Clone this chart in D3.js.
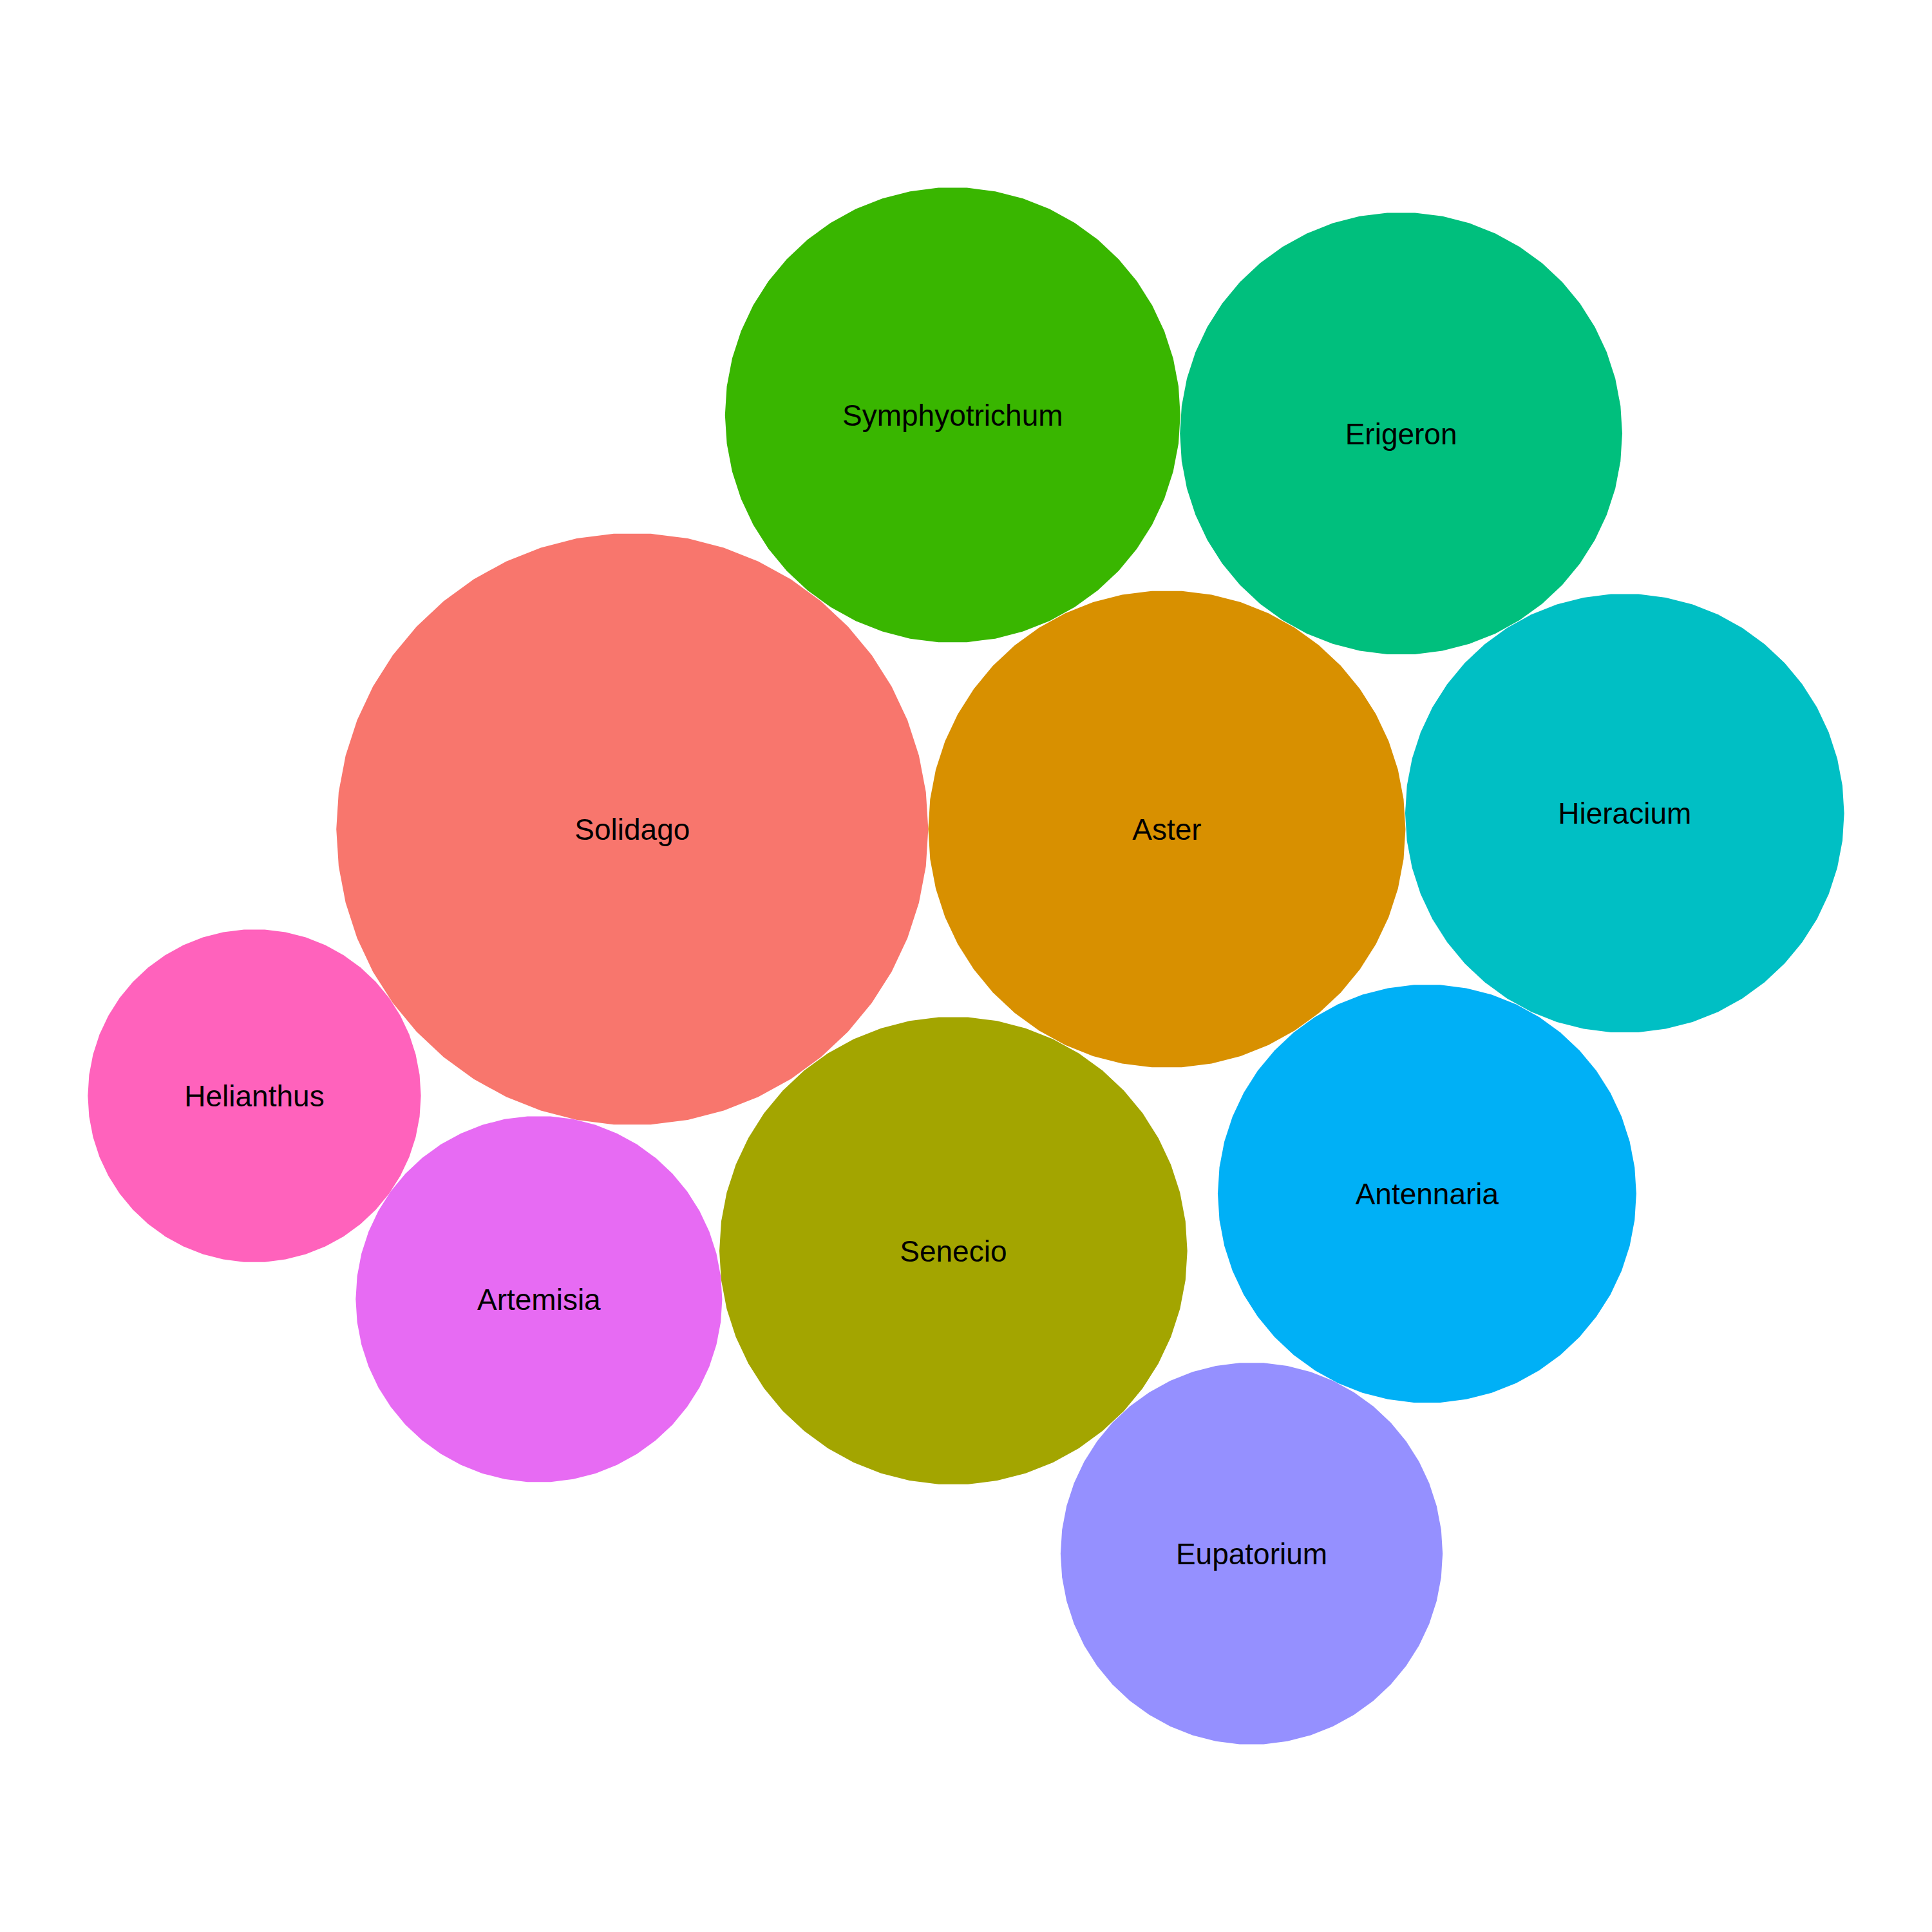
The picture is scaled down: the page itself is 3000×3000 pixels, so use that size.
<!DOCTYPE html>
<html>
<head>
<meta charset="utf-8">
<script src="https://cdn.jsdelivr.net/npm/d3@7"></script>
<style>
  body { margin: 0; background: #fff; }
</style>
</head>
<body>
<svg id="chart"></svg>
<script>
// genera and their counts (area of each bubble), largest first
const genera = ["Solidago", "Aster", "Senecio", "Symphyotrichum", "Erigeron",
                "Hieracium", "Antennaria", "Eupatorium", "Artemisia", "Helianthus"];
const counts = [120, 78, 75, 71, 67, 66, 60, 50, 46, 38];
// ggplot default hue palette for 10 levels
const palette = ["#F8766D", "#D89000", "#A3A500", "#39B600", "#00BF7D",
                 "#00BFC4", "#00B0F6", "#9590FF", "#E76BF3", "#FF62BC"];

const W = 3000, H = 3000;
const npoints = 50;

// progressive front-chain packing (Wang et al.), new circle goes next to
// the chain circle nearest the origin
function place(a, b, c) {
  let db = a.r + c.r, dx = b.x - a.x, dy = b.y - a.y;
  let da = b.r + c.r, dc = dx * dx + dy * dy;
  da *= da; db *= db;
  const x = .5 + (db - da) / (2 * dc);
  const y = Math.sqrt(Math.max(0, 2 * da * (db + dc) - (db -= dc) * db - da * da)) / (2 * dc);
  c.x = a.x + x * dx + y * dy;
  c.y = a.y + x * dy - y * dx;
}
function intersects(a, b) {
  const dx = b.x - a.x, dy = b.y - a.y, dr = a.r + b.r;
  return .999 * dr * dr > dx * dx + dy * dy;
}
function insert(a, b) {
  const c = a.next;
  a.next = b; b.prev = a; b.next = c; c.prev = b;
}
function splice(a, b) { a.next = b; b.prev = a; }

function progressiveLayout(nodes) {
  nodes.forEach(d => { d.next = d.prev = d; });
  const n = nodes.length;
  let a = nodes[0], b = nodes[1], c = nodes[2];
  a.x = -a.r; a.y = 0;
  b.x = b.r; b.y = 0;
  place(a, b, c);
  insert(a, c); a.prev = c; insert(c, b);
  for (let i = 3; i < n; i++) {
    c = nodes[i];
    // chain circle closest to origin
    let best = a, bd = Infinity, p = a;
    do {
      const dd = p.x * p.x + p.y * p.y;
      if (dd < bd) { bd = dd; best = p; }
      p = p.next;
    } while (p !== a);
    a = best; b = a.next;
    for (;;) {
      place(a, b, c);
      let isect = false, s1 = 1, s2 = 1, j, k;
      for (j = b.next; j !== b; j = j.next, s1++) {
        if (intersects(j, c)) { isect = true; break; }
      }
      if (!isect) break;
      for (k = a.prev; k !== j.prev; k = k.prev, s2++) {
        if (intersects(k, c)) break;
      }
      if (s1 < s2 || (s1 === s2 && b.r < a.r)) splice(a, b = j);
      else splice(a = k, b);
    }
    insert(a, c);
  }
  return nodes;
}

const svg = d3.select('#chart')
  .attr('width', W)
  .attr('height', H);

const nodes = progressiveLayout(counts.map((v, i) => ({ name: genera[i], value: v, r: Math.sqrt(v) })));

// polygons approximating circles, like packcircles vertices
const angles = d3.range(npoints).map(j => 2 * Math.PI * j / npoints);
nodes.forEach(d => { d.poly = angles.map(t => [d.x + d.r * Math.cos(t), d.y + d.r * Math.sin(t)]); });
const allPts = nodes.flatMap(d => d.poly);

// extent with 5% expansion, equal aspect
const xe = d3.extent(allPts, p => p[0]), ye = d3.extent(allPts, p => p[1]);
const span = Math.max(xe[1] - xe[0], ye[1] - ye[0]) * 1.1;
const mx = (xe[0] + xe[1]) / 2, my = (ye[0] + ye[1]) / 2;

const x = d3.scaleLinear().domain([mx - span / 2, mx + span / 2]).range([0, W]);
const y = d3.scaleLinear().domain([my - span / 2, my + span / 2]).range([H, 0]);

const color = d3.scaleOrdinal().domain(genera).range(palette);
const line = d3.line().x(p => x(p[0])).y(p => y(p[1])).curve(d3.curveLinearClosed);

svg.append('g')
  .selectAll('path')
  .data(nodes)
  .join('path')
  .attr('d', d => line(d.poly))
  .attr('fill', d => color(d.name));

const fs = 46;
svg.append('g')
  .selectAll('text')
  .data(nodes)
  .join('text')
  .attr('x', d => x(d.x))
  .attr('y', d => y(d.y) + fs * 0.358)
  .attr('text-anchor', 'middle')
  .attr('font-family', '"Liberation Sans", Arial, sans-serif')
  .attr('font-size', fs)
  .attr('fill', '#000')
  .text(d => d.name);
</script>
</body>
</html>
